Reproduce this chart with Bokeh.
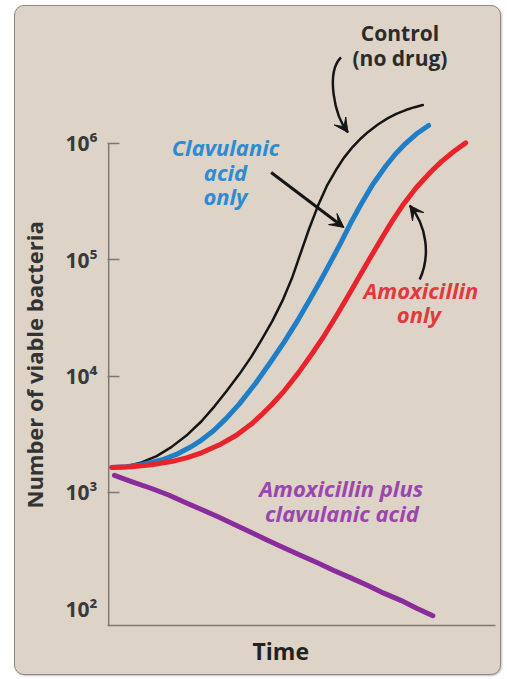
import math
from bokeh.plotting import figure
from bokeh.models import ColumnDataSource, FixedTicker, Arrow, VeeHead, Range1d, Title
from bokeh.core.properties import value
from bokeh.embed import file_html
from bokeh.resources import INLINE

# ---- data (time in arbitrary units, counts of viable bacteria) ----
control_t = [0.08, 0.46, 0.85, 1.24, 1.62, 2.01, 2.40, 2.73, 3.04, 3.38, 3.69, 3.94, 4.23, 4.51, 4.74,
             4.97, 5.18, 5.41, 5.64, 5.88, 6.08, 6.31, 6.52, 6.70, 6.96, 7.22, 7.45, 7.68, 7.91, 8.12]
control_n = [1640, 1680, 1810, 2050, 2450, 3080, 4090, 5470, 7360, 10400, 14700, 20200, 29700, 45700,
             69600, 116000, 184000, 291000, 431000, 594000, 752000, 937000, 1104000, 1251000, 1457000,
             1650000, 1804000, 1938000, 2052000, 2143000]

clav_t = [0.08, 0.46, 0.85, 1.37, 1.75, 2.14, 2.40, 2.71, 3.04, 3.38, 3.79, 4.20, 4.54, 4.90, 5.23,
          5.49, 5.75, 6.01, 6.26, 6.52, 6.83, 7.17, 7.42, 7.68, 7.96, 8.27]
clav_n = [1640, 1660, 1730, 1900, 2120, 2480, 2820, 3390, 4330, 5770, 8600, 13400, 19700, 30600, 47400,
          67400, 97300, 142000, 208000, 299000, 446000, 643000, 817000, 1004000, 1212000, 1428000]

amox_t = [0.08, 0.59, 1.11, 1.62, 2.01, 2.40, 2.91, 3.30, 3.69, 3.94, 4.20, 4.54, 4.90, 5.23, 5.57,
          5.90, 6.26, 6.52, 6.78, 7.04, 7.32, 7.60, 7.96, 8.33, 8.61, 8.92, 9.23]
amox_n = [1640, 1660, 1730, 1840, 1980, 2190, 2610, 3100, 3870, 4610, 5610, 7470, 10600, 15100, 22200,
          33500, 53600, 75800, 106500, 149500, 213000, 294000, 421000, 571000, 702000, 854000, 1012000]

combo_t = [0.15, 0.59, 1.11, 1.55, 2.01, 2.40, 2.84, 3.25, 3.69, 4.12, 4.54, 4.97, 5.41, 5.82, 6.26,
           6.70, 7.11, 7.55, 7.96, 8.38]
combo_n = [1400, 1240, 1080, 950, 811, 713, 614, 530, 452, 386, 333, 287, 247, 213, 184, 158, 136,
           118, 101, 87]

tick_values = [1e2, 1e3, 1e4, 1e5, 1e6]
tick_labels = ["10\u00b2", "10\u00b3", "10\u2074", "10\u2075", "10\u2076"]

label_text = ["Control", "(no drug)", "Clavulanic", "acid", "only", "Amoxicillin", "only",
              "Amoxicillin plus", "clavulanic acid"]
label_t = [7.53, 7.53, 3.02, 3.02, 3.02, 8.07, 8.02, 6.01, 6.03]
label_n = [8.83e6, 5.38e6, 9.24e5, 5.64e5, 3.57e5, 5.45e4, 3.45e4, 1100, 671]

# ---- styles ----
BG = "#ddd3c7"
AXIS = "#7d7872"
FONT = "Open Sans"
C_CONTROL = "#151515"
C_CLAV = "#1f7ec8"
C_AMOX = "#e8232b"
C_COMBO = "#8a2c9b"
label_color = ["#2b2b2b", "#2b2b2b", "#2d8bd0", "#2d8bd0", "#2d8bd0", "#e03a3e", "#e03a3e", "#9b46ad", "#9b46ad"]
label_style = ["bold", "bold"] + ["bold italic"] * 7
label_size = ["21px", "21px"] + ["22px"] * 7

Y_LO = 71.7
p = figure(width=487, height=670, y_axis_type="log", tools="",
           x_range=Range1d(-0.03, 10), y_range=Range1d(Y_LO, 1.26e7),
           output_backend="svg", toolbar_location=None,
           min_border_left=92, min_border_right=7, min_border_top=9, min_border_bottom=51)
p.margin = (5, 0, 0, 14)
p.styles = {"border": "1px solid #8e8982", "border-radius": "10px", "overflow": "hidden",
            "background-color": BG, "box-shadow": "1px 1px 2px rgba(0,0,0,0.25)"}
p.background_fill_color = None
p.border_fill_color = None
p.outline_line_color = None
p.xgrid.visible = False
p.ygrid.visible = False

# y axis
ya = p.yaxis[0]
ya.ticker = FixedTicker(ticks=tick_values, minor_ticks=tick_values[1:])
ya.major_label_overrides = {v: l for v, l in zip(tick_values, tick_labels)}
ya.major_tick_in = 0
ya.major_tick_out = 0
ya.minor_tick_in = 12
ya.minor_tick_out = 0
ya.minor_tick_line_color = AXIS
ya.minor_tick_line_width = 1.5
ya.axis_line_color = None
ya.major_label_standoff = 10
ya.major_label_text_font = FONT
ya.major_label_text_font_size = "21px"
ya.major_label_text_font_style = "bold"
ya.major_label_text_color = "#3a3a3a"
# invisible spacer label: keeps the title a little further from the tick labels
ya.axis_label = "\u00a0"
ya.axis_label_text_font_size = "1px"
ya.axis_label_standoff = 10
# visible y-axis rule only up to 10^6
p.segment(x0=[0], y0=[Y_LO], x1=[0], y1=[tick_values[-1]], line_color=AXIS, line_width=1.5)

p.add_layout(Title(text="Number of viable bacteria", align="left", offset=117,
                   vertical_align="bottom", standoff=0,
                   text_font=FONT, text_font_size="22px", text_font_style="bold",
                   text_color="#333333"), "left")

# x axis
xa = p.xaxis[0]
xa.ticker = FixedTicker(ticks=[])
xa.major_tick_in = 0
xa.major_tick_out = 0
xa.minor_tick_in = 0
xa.minor_tick_out = 0
xa.major_label_standoff = 0
xa.major_label_text_font_size = "0px"
xa.axis_line_color = AXIS
xa.axis_line_width = 1.5

p.add_layout(Title(text="Time", align="left", offset=145, vertical_align="bottom", standoff=14,
                   text_font=FONT, text_font_size="23px", text_font_style="bold",
                   text_color="#222222"), "below")

# curves
p.line(control_t, control_n, line_color=C_CONTROL, line_width=2.5, line_cap="round", line_join="round")
p.line(clav_t, clav_n, line_color=C_CLAV, line_width=5, line_cap="round", line_join="round")
p.line(amox_t, amox_n, line_color=C_AMOX, line_width=5, line_cap="round", line_join="round")
p.line(combo_t, combo_n, line_color=C_COMBO, line_width=5, line_cap="round", line_join="round")

# labels
src = ColumnDataSource(dict(t=label_t, n=label_n, text=label_text, color=label_color,
                            style=label_style, size=label_size))
p.text(x="t", y="n", text="text", text_color="color", text_font_style="style", source=src,
       text_font=value(FONT), text_font_size="size", text_align="center", text_baseline="middle")

# annotation arrows (curved shafts + heads)
p.bezier(x0=[6.005, 8.041], y0=[5.49e6, 6.77e4], x1=[6.186, 7.784], y1=[1.243e6, 2.93e5],
         cx0=[5.619, 8.325], cy0=[4.08e6, 1.089e5], cx1=[5.825, 8.222], cy1=[1.741e6, 1.972e5],
         line_color=C_CONTROL, line_width=2.5)
for xs, ys, xe, ye in [(6.082, 1.395e6, 6.186, 1.243e6), (7.905, 2.587e5, 7.784, 2.93e5),
                       (4.201, 5.63e5, 6.082, 1.896e5)]:
    p.add_layout(Arrow(end=VeeHead(size=14, fill_color=C_CONTROL, line_color=C_CONTROL, line_width=1),
                       x_start=xs, y_start=ys, x_end=xe, y_end=ye,
                       line_color=C_CONTROL, line_width=3))

open("out.html", "w").write(file_html(p, INLINE))
